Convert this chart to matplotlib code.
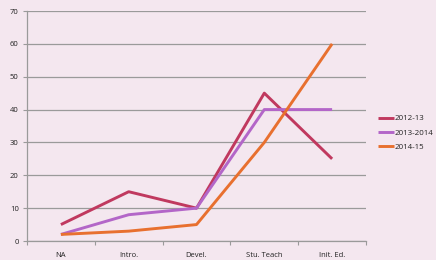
import numpy as np
import matplotlib.pyplot as plt

categories = ['NA', 'Intro.', 'Devel.', 'Stu. Teach', 'Init. Ed.']
s_2012_13 = [5, 15, 10, 45, 25]
s_2013_2014 = [2, 8, 10, 40, 40]
s_2014_15 = [2, 3, 5, 30, 60]
y_ticks = [0, 10, 20, 30, 40, 50, 60, 70]

plt.rcParams['font.family'] = ['Open Sans', 'DejaVu Sans']

bg = '#F4E7EF'
grid_c = '#9A9A9A'
txt_c = '#222222'

fig = plt.figure(figsize=(4.36, 2.6), dpi=100, facecolor=bg)
ax = fig.add_axes([27/436, 19/260, 339/436, 230/260], facecolor=bg)

x = np.arange(len(categories))
ax.plot(x, s_2012_13, color='#C0395F', linewidth=2.1, label='2012-13', solid_capstyle='butt')
ax.plot(x, s_2013_2014, color='#B366C8', linewidth=2.1, label='2013-2014', solid_capstyle='butt')
ax.plot(x, s_2014_15, color='#E8702F', linewidth=2.1, label='2014-15', solid_capstyle='butt')

ax.set_xlim(-0.5, len(categories) - 0.5)
ax.set_ylim(0, 70)
ax.set_yticks(y_ticks)
ax.set_xticks(x)
ax.set_xticklabels(categories)
ax.set_xticks(np.arange(-0.5, len(categories)), minor=True)
ax.tick_params(axis='x', which='major', length=0, labelsize=5.5, pad=8, colors=txt_c)
ax.tick_params(axis='x', which='minor', length=3, color=grid_c, width=0.8)
ax.tick_params(axis='y', length=3, color=grid_c, width=0.8, labelsize=5.5, pad=3, labelcolor=txt_c)

ax.yaxis.grid(True, color=grid_c, linewidth=0.9)
ax.set_axisbelow(True)
for side in ['top', 'right']:
    ax.spines[side].set_visible(False)
for side in ['left', 'bottom']:
    ax.spines[side].set_color(grid_c)
    ax.spines[side].set_linewidth(0.9)

leg = ax.legend(loc='center left', bbox_to_anchor=(1.015, 0.47), frameon=False,
                fontsize=5.7, handlelength=2.0, handletextpad=0.1, labelspacing=0.85)
for line in leg.get_lines():
    line.set_linewidth(2.1)
for t in leg.get_texts():
    t.set_color(txt_c)

fig.savefig('out.png', dpi=100, facecolor=bg)
